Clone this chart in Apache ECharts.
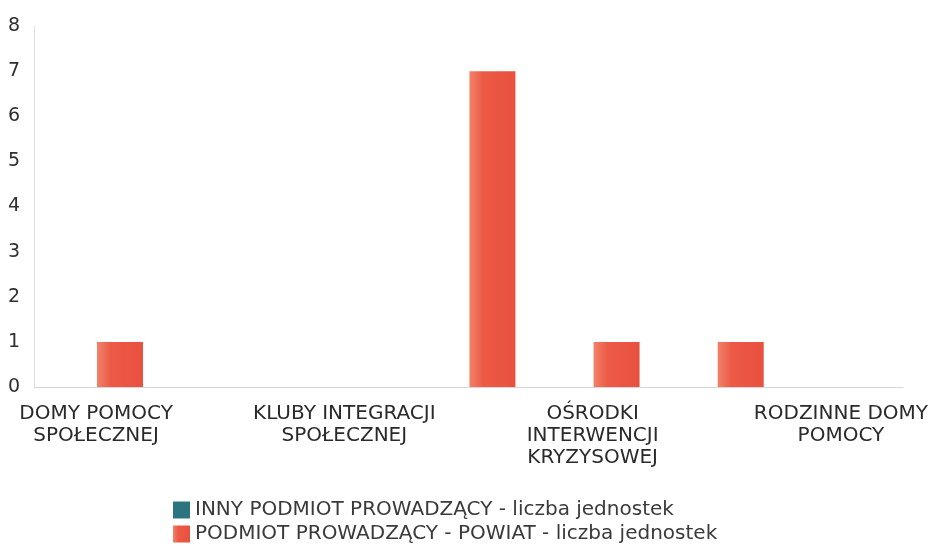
<!DOCTYPE html>
<html>
<head>
<meta charset="utf-8">
<script src="https://cdn.jsdelivr.net/npm/echarts@6/dist/echarts.min.js"></script>
<style>
  html, body { margin: 0; padding: 0; background: #fff; }
  #chart { width: 939px; height: 546px; }
</style>
</head>
<body>
<div id="chart"></div>
<script>
// 7 categories, only every other label is printed in the source chart
var categories = [
  'DOMY POMOCY\nSPOŁECZNEJ', '',
  'KLUBY INTEGRACJI\nSPOŁECZNEJ', '',
  'OŚRODKI\nINTERWENCJI\nKRYZYSOWEJ', '',
  'RODZINNE DOMY\nPOMOCY'
];
var innyValues   = [0, 0, 0, 0, 0, 0, 0];
var powiatValues = [1, 0, 0, 7, 1, 1, 0];
var yTicks = [0, 8, 1]; // min, max, interval

var seriesNames = [
  'INNY PODMIOT PROWADZĄCY - liczba jednostek',
  'PODMIOT PROWADZĄCY - POWIAT - liczba jednostek'
];

var font = 'DejaVu Sans';

var option = {
  animation: false,
  backgroundColor: '#ffffff',
  grid: { left: 34, right: 36, top: 26, bottom: 159, containLabel: false },
  legend: {
    orient: 'vertical',
    left: 168,
    top: 495,
    height: 60,
    itemWidth: 17,
    itemHeight: 17,
    itemGap: 4,
    icon: 'rect',
    textStyle: { fontFamily: font, fontSize: 20, color: '#3a3a3a', lineHeight: 20 },
    data: seriesNames
  },
  xAxis: {
    type: 'category',
    data: categories,
    axisLine: { show: true, lineStyle: { color: '#d6d6d6', width: 1 } },
    axisTick: { show: false },
    axisLabel: {
      interval: 0,
      margin: 16,
      fontFamily: font,
      fontSize: 20,
      lineHeight: 22,
      color: '#2a2a2a'
    }
  },
  yAxis: {
    type: 'value',
    min: yTicks[0],
    max: yTicks[1],
    interval: yTicks[2],
    axisLine: { show: true, lineStyle: { color: '#dedede', width: 1 } },
    axisTick: { show: false },
    splitLine: { show: false },
    axisLabel: { margin: 14, fontFamily: font, fontSize: 19, color: '#2f2f2f' }
  },
  series: [
    {
      name: seriesNames[0],
      type: 'bar',
      data: innyValues,
      barWidth: 46,
      barGap: '4%',
      itemStyle: { color: '#2b7480' }
    },
    {
      name: seriesNames[1],
      type: 'bar',
      data: powiatValues,
      barWidth: 46,
      barGap: '4%',
      itemStyle: {
        color: new echarts.graphic.LinearGradient(0, 0, 1, 0, [
          { offset: 0, color: '#f2826a' },
          { offset: 0.3, color: '#ec5a46' },
          { offset: 1, color: '#e9503f' }
        ])
      }
    }
  ]
};

var chart = echarts.init(document.getElementById('chart'), null, { renderer: 'canvas' });
chart.setOption(option);
</script>
</body>
</html>
